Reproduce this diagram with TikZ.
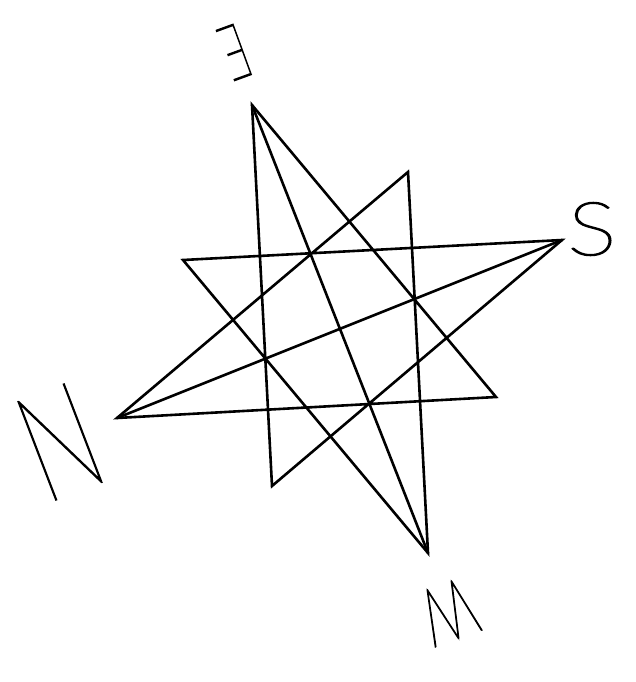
\documentclass[tikz,border=0pt]{standalone}
\usepackage{fontspec}
\setmainfont{Lato}
\newfontfamily\lettfontA{Lato Hairline}[FakeBold=2.1]
\newfontfamily\lettfontB{Lato Hairline}[FakeBold=1.2]
\begin{document}
\begin{tikzpicture}[x=1pt,y=-1pt,
  starline/.style={line width=2.6pt,line join=miter,line cap=round},
  letter/.style={inner sep=0pt,outer sep=0pt,anchor=center}]
\useasboundingbox (0,0) rectangle (636,682);
\coordinate (E) at (252,105);
\coordinate (S) at (562,240);
\coordinate (W) at (428,553);
\coordinate (N) at (117,418);
\coordinate (A) at (408,172);
\coordinate (C) at (496,397);
\coordinate (D) at (272,486);
\coordinate (B) at (183,260);
\draw[starline] (E) -- (D) -- (S) -- (B) -- (W) -- (A) -- (N) -- (C) -- cycle;
\draw[starline] (E) -- (W);
\draw[starline] (N) -- (S);
\node[letter,rotate=200,xscale=0.58,font=\lettfontA\fontsize{76}{76}\selectfont] (lE) at (235,52) {E};
\node[letter,rotate=21,xscale=0.64,font=\lettfontB\fontsize{150}{150}\selectfont] (lN) at (60,442) {N};
\node[letter,rotate=200,xscale=0.66,font=\lettfontA\fontsize{80}{80}\selectfont] (lW) at (449,612) {W};
\node[letter,rotate=0,xscale=1.25,font=\lettfontA\fontsize{74}{74}\selectfont] (lS) at (592,229) {S};
\end{tikzpicture}
\end{document}
